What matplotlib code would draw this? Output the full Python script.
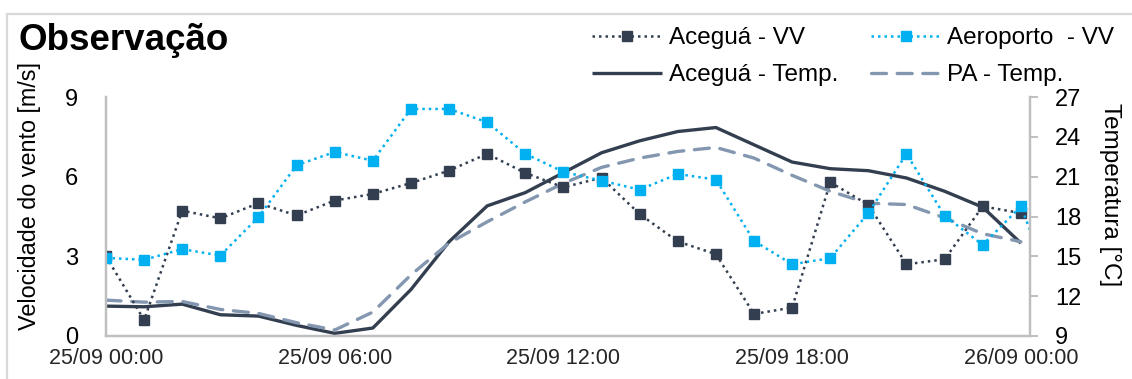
import numpy as np
import matplotlib
matplotlib.use("Agg")
import matplotlib.pyplot as plt
from matplotlib.patches import Rectangle

plt.rcParams['font.family'] = ['Liberation Sans', 'DejaVu Sans']

# Hourly observations, 25/09 00:00 onwards
hours = list(range(26))
acegua_vv = [3.0, 0.6, 4.72, 4.43, 5.0, 4.54, 5.1, 5.35, 5.76, 6.23, 6.86, 6.14, 5.6,
             5.96, 4.59, 3.56, 3.08, 0.83, 1.07, 5.79, 4.94, 2.7, 2.89, 4.88, 4.63, 5.3]
aeroporto_vv = [2.94, 2.87, 3.27, 3.03, 4.48, 6.43, 6.93, 6.6, 8.55, 8.55, 8.05, 6.86, 6.18,
                5.85, 5.51, 6.1, 5.89, 3.58, 2.7, 2.93, 4.63, 6.86, 4.53, 3.43, 4.88, 1.2]
acegua_temp = [11.25, 11.2, 11.4, 10.6, 10.5, 9.8, 9.2, 9.6, 12.5, 16.1, 18.8, 19.8, 21.3,
               22.8, 23.7, 24.4, 24.7, 23.4, 22.1, 21.6, 21.45, 20.9, 19.9, 18.7, 16.0, np.nan]
pa_temp = [11.7, 11.55, 11.6, 11.0, 10.7, 10.0, 9.45, 10.8, 13.6, 16.0, 17.6, 19.1, 20.5,
           21.7, 22.4, 22.9, 23.2, 22.4, 21.1, 19.9, 19.0, 18.9, 17.9, 16.7, 16.1, np.nan]

xtick_pos = [0, 6, 12, 18, 24]
xtick_labels = ["25/09 00:00", "25/09 06:00", "25/09 12:00", "25/09 18:00", "26/09 00:00"]

DARK = "#333F50"
CYAN = "#00B0F0"
STEEL = "#8497B0"
AXIS = "#BFBFBF"

W, H = 1132, 379
fig = plt.figure(figsize=(W / 100, H / 100), dpi=100)
ax = fig.add_axes([106 / W, 1 - 336 / H, (1030 - 106) / W, (336 - 97) / H])
ax2 = ax.twinx()

ax.set_zorder(ax2.get_zorder() + 1)
ax.patch.set_visible(False)

l1, = ax.plot(hours, acegua_vv, color=DARK, lw=1.8, ls=(0, (1, 1.6)), marker="s",
              ms=7.3, mec=DARK, mfc=DARK, label="Aceguá - VV")
l2, = ax.plot(hours, aeroporto_vv, color=CYAN, lw=1.8, ls=(0, (1, 1.6)), marker="s",
              ms=7.3, mec=CYAN, mfc=CYAN, label="Aeroporto  - VV")
l3, = ax2.plot(hours, acegua_temp, color=DARK, lw=2.4, label="Aceguá - Temp.",
               solid_capstyle="butt")
l4, = ax2.plot(hours, pa_temp, color=STEEL, lw=2.4, ls=(0, (4.5, 3.2)),
               label="PA - Temp.", dash_capstyle="round")

xmax = 24.24
ax.set_xlim(0, xmax)
ax.set_ylim(0, 9)
ax2.set_ylim(9, 27)
ax.set_yticks([0, 3, 6, 9])
ax2.set_yticks([9, 12, 15, 18, 21, 24, 27])
ax.set_xticks(xtick_pos)
ax.set_xticklabels(xtick_labels)

for a in (ax, ax2):
    a.spines['top'].set_visible(False)
    for s in ('left', 'right', 'bottom'):
        a.spines[s].set_color(AXIS)
        a.spines[s].set_linewidth(1.6)

ax.tick_params(axis='y', length=0, pad=20, labelsize=17, labelcolor="black")
ax.tick_params(axis='x', length=0, pad=9, labelsize=15.5, labelcolor="#262626")
ax2.tick_params(axis='y', length=6, width=1.4, color=AXIS, pad=12, labelsize=17,
                labelcolor="black")

fig.text(30 / W, 1 - 196 / H, "Velocidade do vento [m/s]", rotation=90,
         ha='center', va='center', fontsize=16.8)
fig.text(1110 / W, 1 - 195 / H, "Temperatura [°C]", rotation=270,
         ha='center', va='center', fontsize=17.5)

fig.text(18 / W, 1 - 41 / H, "Observação", ha='left', va='center',
         fontsize=26.5, fontweight='bold')

# column-wise fill: left column = Aceguá entries, right column = others
fig.legend(handles=[l1, l3, l2, l4], ncol=2, loc='upper left',
           bbox_to_anchor=(592 / W, 1 - 27 / H), frameon=False, fontsize=17.5,
           handlelength=2.9, handletextpad=0.25, columnspacing=1.35,
           labelspacing=0.62, borderaxespad=0, borderpad=0)

fig.patches.append(Rectangle((7 / W, -0.2), 1.2, 1.2 - 14 / H,
                             transform=fig.transFigure, fill=False,
                             edgecolor="#D9D9D9", lw=1.6, clip_on=False))

fig.savefig("out.png", dpi=100)
